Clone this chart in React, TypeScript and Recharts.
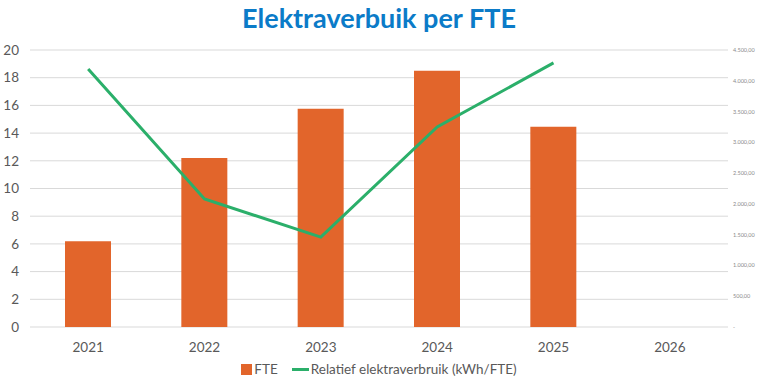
import React from 'react';
import { ComposedChart, Bar, Line, XAxis, YAxis, CartesianGrid, Legend } from 'recharts';

const years = ['2021', '2022', '2023', '2024', '2025', '2026'];
const fte: (number | null)[] = [6.2, 12.2, 15.75, 18.5, 14.45, null];
const relatief: (number | null)[] = [4190, 2080, 1460, 3250, 4290, null];
const leftTicks = [0, 2, 4, 6, 8, 10, 12, 14, 16, 18, 20];
const rightTicks = [0, 500, 1000, 1500, 2000, 2500, 3000, 3500, 4000, 4500];

const data = years.map((y, i) => ({ year: y, FTE: fte[i], rel: relatief[i] }));

const FONT = 'Lato, "Open Sans", sans-serif';

const fmtNl = (v: number) => {
  if (v === 0) return '-';
  const s = Math.round(v).toString();
  const withDots = s.replace(/\B(?=(\d{3})+(?!\d))/g, '.');
  return withDots + ',00';
};

const LegendContent = (props: any) => {
  const items = props.payload || [];
  return (
    <div style={{ display: 'flex', justifyContent: 'center', alignItems: 'center', fontFamily: FONT, fontSize: 13.5, color: '#595959' }}>
      {items.map((it: any, i: number) => (
        <div key={i} style={{ display: 'flex', alignItems: 'center', marginRight: i === 0 ? 14 : 0 }}>
          {it.type === 'square' ? (
            <span style={{ display: 'inline-block', width: 11, height: 11, background: it.color, marginRight: 2 }} />
          ) : (
            <span style={{ display: 'inline-block', width: 17, height: 3, background: it.color, marginRight: 2 }} />
          )}
          <span>{it.value}</span>
        </div>
      ))}
    </div>
  );
};

export default function App() {
  return (
    <div style={{ position: 'absolute', left: 0, top: 0, width: 758, height: 385, background: '#fff' }}>
      <div style={{ position: 'absolute', left: 0, top: 1, width: 758, textAlign: 'center', fontFamily: FONT, fontWeight: 700, fontSize: 27, color: '#0B7BC8' }}>
        Elektraverbuik per FTE
      </div>
      <ComposedChart width={758} height={385} data={data} margin={{ top: 50, right: 0, left: 0, bottom: 4 }} barCategoryGap="30%">
        <CartesianGrid vertical={false} stroke="#d9d9d9" yAxisId="left" />
        <XAxis dataKey="year" axisLine={false} tickLine={false} tickMargin={9} height={34}
          tick={{ fontFamily: FONT, fontSize: 13.5, fill: '#595959' }} />
        <YAxis yAxisId="left" domain={[0, 20]} ticks={leftTicks} width={30} axisLine={false} tickLine={false} tickMargin={5}
          tick={{ fontFamily: FONT, fontSize: 13.5, fill: '#595959' }} interval={0} />
        <YAxis yAxisId="right" orientation="right" domain={[0, 4500]} ticks={rightTicks} width={30} axisLine={false} tickLine={false}
          tickMargin={-1} tickFormatter={fmtNl} interval={0}
          tick={{ fontFamily: FONT, fontSize: 5.5, fill: '#8a8a8a' }} />
        <Bar yAxisId="left" dataKey="FTE" name="FTE" fill="#E2652B" barSize={46} legendType="square" isAnimationActive={false} />
        <Line yAxisId="right" dataKey="rel" name="Relatief elektraverbruik (kWh/FTE)" stroke="#2BAF6A" strokeWidth={3}
          dot={false} legendType="plainline" isAnimationActive={false} />
        <Legend verticalAlign="bottom" height={20} content={<LegendContent />} />
      </ComposedChart>
    </div>
  );
}
